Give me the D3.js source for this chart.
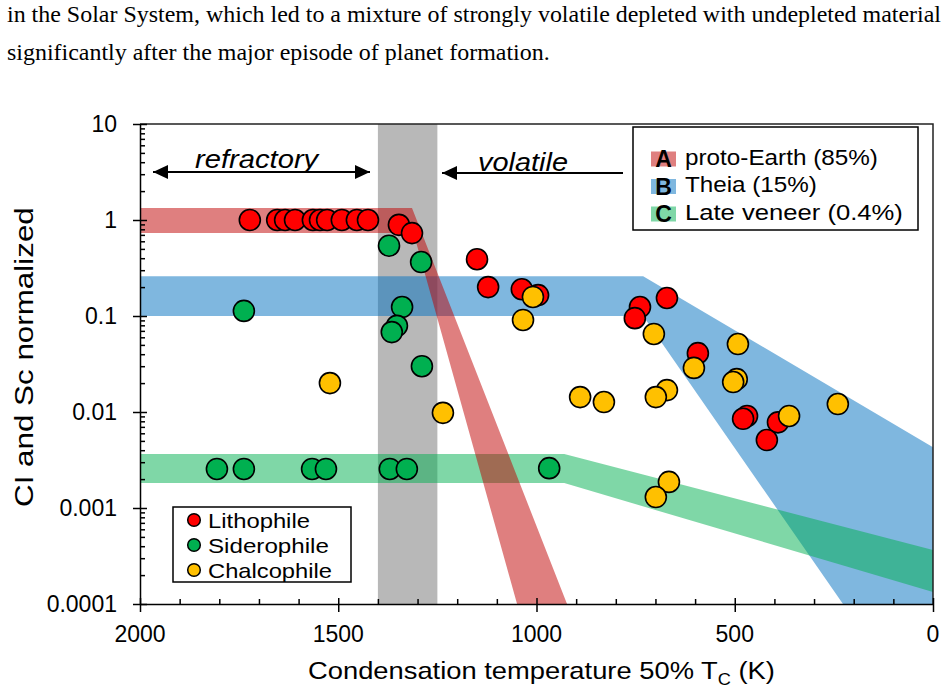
<!DOCTYPE html>
<html>
<head>
<meta charset="utf-8">
<script src="https://cdn.jsdelivr.net/npm/d3@7"></script>
<style>
  body { margin: 0; background: #fff; }
  svg { display: block; }
  text { font-family: "Liberation Sans", Arial, sans-serif; fill: #000; }
</style>
</head>
<body>
<svg id="chart" width="948" height="693"></svg>
<script>
// ---- data ----
var lithoT = [1723, 1654, 1634, 1609, 1564, 1546, 1528, 1491, 1453, 1425, 1347, 1314, 1150, 1122, 1037, 996, 671, 739, 752, 593, 469, 479, 391, 419];
var lithoV = [1, 1, 1, 1, 1, 1, 1, 1, 1, 1, 0.89, 0.73, 0.39, 0.20, 0.19, 0.165, 0.154, 0.124, 0.095, 0.041, 0.0091, 0.0085, 0.0078, 0.0051];

var sideroT = [1738, 1339, 1352, 1365, 1289, 1806, 1738, 1566, 1531, 1370, 1327, 968, 1372, 1291];
var sideroV = [0.113, 0.124, 0.079, 0.068, 0.030, 0.00255, 0.00255, 0.00255, 0.00255, 0.00255, 0.00255, 0.0026, 0.54, 0.365];

var chalcoT = [1009, 1034, 704, 603, 492, 495, 504, 363, 240, 890, 830, 671, 699, 666, 699, 1521, 1236];
var chalcoV = [0.158, 0.091, 0.065, 0.0288, 0.051, 0.022, 0.0205, 0.0091, 0.0121, 0.0143, 0.0127, 0.0169, 0.0143, 0.00187, 0.0013, 0.020, 0.0098];

// model bands (temperature, normalized abundance)
var bandA = [[2000, 1.33], [1314, 1.33], [923, 1e-4], [1049, 1e-4], [1310, 0.73], [2000, 0.73]];
var bandB = [[2000, 0.26], [731, 0.26], [0, 0.0043], [0, 1e-4], [227, 1e-4], [731, 0.1], [2000, 0.1]];
var bandC = [[2000, 0.00365], [930, 0.00365], [0, 0.000365], [0, 0.000133], [930, 0.00182], [2000, 0.00182]];
var grayZone = [1400, 1250];

var xTicks = [2000, 1500, 1000, 500, 0];
var yTicks = [1e-4, 1e-3, 0.01, 0.1, 1, 10];
var yTickLabels = ['0.0001', '0.001', '0.01', '0.1', '1', '10'];

var bandNames = ['proto-Earth (85%)', 'Theia (15%)', 'Late veneer (0.4%)'];
var bandLetters = ['A', 'B', 'C'];
var groupNames = ['Lithophile', 'Siderophile', 'Chalcophile'];

var bandColors = ['rgba(192,0,0,0.5)', 'rgba(0,112,192,0.5)', 'rgba(0,176,80,0.5)'];
var groupColors = ['#ff0000', '#00b050', '#ffc000'];

// ---- setup ----
var svg = d3.select('#chart');
var x = d3.scaleLinear().domain([2000, 0]).range([140, 933]);
var y = d3.scaleLog().domain([1e-4, 10]).range([604, 124]);

// stretch a text element so it covers a given width
function fit(t, x0, y0, w, rot) {
  var bw = t.node().getBBox().width;
  t.attr('transform', 'translate(' + x0 + ',' + y0 + ')' + (rot ? ' rotate(-90)' : '') + ' scale(' + (w / bw) + ',1)');
  return t;
}

// paragraph text above the figure
var p1 = svg.append('text').style('font-family', '"Liberation Serif", "Times New Roman", serif').style('font-size', '24px')
  .text('in the Solar System, which led to a mixture of strongly volatile depleted with undepleted material');
fit(p1, 7, 22, 935);
var p2 = svg.append('text').style('font-family', '"Liberation Serif", "Times New Roman", serif').style('font-size', '24px')
  .text('significantly after the major episode of planet formation.');
fit(p2, 7, 60, 543);

var plot = svg.append('g');
svg.append('clipPath').attr('id', 'clip').append('rect')
  .attr('x', 140).attr('y', 124).attr('width', 793).attr('height', 480);
var clipped = plot.append('g').attr('clip-path', 'url(#clip)');

// gray transition zone
clipped.append('rect')
  .attr('x', x(grayZone[0])).attr('y', 124)
  .attr('width', x(grayZone[1]) - x(grayZone[0])).attr('height', 480)
  .attr('fill', '#b8b8b8');

var line = d3.line().x(function(d){ return x(d[0]); }).y(function(d){ return y(d[1]); });
[[bandB, 1], [bandC, 2], [bandA, 0]].forEach(function(b){
  clipped.append('path').attr('d', line(b[0]) + 'Z').attr('fill', bandColors[b[1]]);
});

// frame
plot.append('path').attr('d', 'M140,124H933V604').attr('fill', 'none').attr('stroke', '#222').attr('stroke-width', 1.5);

// axes
var xMinor = d3.range(0, 2001, 100).filter(function(d){ return d % 500 !== 0; });
var yMinor = [];
for (var e = -4; e < 1; e++) for (var m = 2; m < 10; m++) yMinor.push(m * Math.pow(10, e));

function noDomain(g) { g.select('.domain').remove(); }

var gx = plot.append('g').attr('transform', 'translate(0,604)');
gx.append('g').call(d3.axisBottom(x).tickValues(xTicks).tickSize(8).tickSizeOuter(0).tickFormat(''));
gx.append('g').call(d3.axisTop(x).tickValues(xTicks).tickSize(6).tickFormat('')).call(noDomain);
gx.append('g').call(d3.axisTop(x).tickValues(xMinor).tickSize(5).tickFormat('')).call(noDomain);

var gy = plot.append('g').attr('transform', 'translate(140,0)');
gy.append('g').call(d3.axisLeft(y).tickValues(yTicks).tickSize(7).tickSizeOuter(0).tickFormat(''));
gy.append('g').call(d3.axisRight(y).tickValues(yTicks).tickSize(7).tickFormat('')).call(noDomain);
gy.append('g').call(d3.axisRight(y).tickValues(yMinor).tickSize(5).tickFormat('')).call(noDomain);

plot.selectAll('.domain, .tick line').attr('stroke', '#000').attr('stroke-width', 1.5);

// tick labels
plot.selectAll('.xlab').data(xTicks).enter().append('text')
  .attr('x', function(d){ return x(d); }).attr('y', 642)
  .attr('text-anchor', 'middle').style('font-size', '23px')
  .text(function(d){ return d; });
plot.selectAll('.ylab').data(yTicks).enter().append('text')
  .attr('x', 117).attr('y', function(d){ return y(d) + 8; })
  .attr('text-anchor', 'end').style('font-size', '23px')
  .text(function(d, i){ return yTickLabels[i]; });

// axis titles
var xt = svg.append('text').style('font-size', '24px');
xt.append('tspan').text('Condensation temperature 50% T');
xt.append('tspan').attr('dy', 6).style('font-size', '16px').text('C');
xt.append('tspan').attr('dy', -6).text(' (K)');
fit(xt, 308, 679, 467);

var yt = svg.append('text').style('font-size', '26px').text('CI and Sc normalized');
fit(yt, 33, 507, 300, true);

// refractory / volatile arrows
function arrow(x1, x2, yy, both) {
  var g = svg.append('g');
  g.append('line').attr('x1', x1).attr('x2', x2).attr('y1', yy).attr('y2', yy)
    .attr('stroke', '#000').attr('stroke-width', 2);
  var heads = both ? [x1, x2] : [x2];
  heads.forEach(function(hx){
    var dir = hx === Math.min(x1, x2) ? 1 : -1;
    g.append('path').attr('d', 'M' + hx + ',' + yy + 'L' + (hx + dir * 15) + ',' + (yy - 7) + 'L' + (hx + dir * 15) + ',' + (yy + 7) + 'Z')
      .attr('fill', '#000');
  });
}
arrow(153, 370, 172, true);
arrow(623, 442, 173, false);
var rt = svg.append('text').style('font-size', '25px').style('font-style', 'italic').text('refractory');
fit(rt, 195, 168, 125);
var vt = svg.append('text').style('font-size', '25px').style('font-style', 'italic').text('volatile');
fit(vt, 478, 171, 90);

// data points
var groups = [[lithoT, lithoV], [sideroT, sideroV], [chalcoT, chalcoV]];
groups.forEach(function(gr, gi){
  plot.append('g').selectAll('circle').data(d3.range(gr[0].length)).enter().append('circle')
    .attr('cx', function(i){ return x(gr[0][i]); })
    .attr('cy', function(i){ return y(gr[1][i]); })
    .attr('r', 10.5)
    .attr('fill', groupColors[gi])
    .attr('stroke', '#000').attr('stroke-width', 1.6);
});

// legend for bands (top right)
var lg1 = svg.append('g');
lg1.append('rect').attr('x', 633).attr('y', 127).attr('width', 285).attr('height', 103)
  .attr('fill', '#fff').attr('stroke', '#000').attr('stroke-width', 1.5);
bandNames.forEach(function(name, i){
  var cy = 159 + i * 27.5;
  lg1.append('rect').attr('x', 651).attr('y', cy - 7.5).attr('width', 25).attr('height', 15).attr('fill', bandColors[i]);
  lg1.append('text').attr('x', 663.5).attr('y', cy + 8).attr('text-anchor', 'middle')
    .style('font-size', '23px').style('font-weight', 'bold').text(bandLetters[i]);
  var t = lg1.append('text').style('font-size', '22px').text(name);
  var w = [193, 132, 218][i];
  fit(t, 685, cy + 5.5, w);
});

// legend for element groups (bottom left)
var lg2 = svg.append('g');
lg2.append('rect').attr('x', 173).attr('y', 507).attr('width', 178).attr('height', 75)
  .attr('fill', '#fff').attr('stroke', '#000').attr('stroke-width', 1.5);
groupNames.forEach(function(name, i){
  var cy = 520 + i * 25;
  lg2.append('circle').attr('cx', 194).attr('cy', cy).attr('r', 6.3)
    .attr('fill', groupColors[i]).attr('stroke', '#000').attr('stroke-width', 1.5);
  var t = lg2.append('text').style('font-size', '20px').text(name);
  var w = [102, 121, 124][i];
  fit(t, 208, cy + 7.5, w);
});
</script>
</body>
</html>
